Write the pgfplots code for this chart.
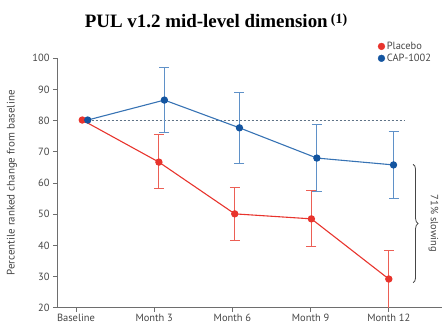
\documentclass[border=0pt]{standalone}
\usepackage{pgfplots}
\pgfplotsset{compat=1.18}
\usepackage{fontspec}
\setmainfont{PT Sans}
\newfontfamily\titlefont{Liberation Serif}
\usetikzlibrary{decorations.pathreplacing}
\definecolor{pred}{RGB}{232,52,45}
\definecolor{predlight}{RGB}{236,95,85}
\definecolor{pblue}{RGB}{20,85,160}
\definecolor{pbline}{RGB}{55,115,180}
\definecolor{pblight}{RGB}{95,145,200}
\definecolor{axgray}{RGB}{110,110,110}
\definecolor{txtgray}{RGB}{70,70,70}
\definecolor{dotgray}{RGB}{95,115,135}
\begin{document}
\begin{tikzpicture}
\path[use as bounding box] (-57bp,-18.3bp) rectangle (385bp,307.7bp);
\begin{axis}[
  scale only axis,
  width=385bp, height=249.4bp,
  xmin=-0.243, xmax=4.68,
  ymin=20, ymax=100,
  axis x line*=bottom, axis y line*=left,
  axis line style={axgray, line width=0.9pt},
  tick align=outside,
  major tick length=4bp,
  tick style={axgray, line width=0.9pt},
  xtick={0,1,2,3,4},
  xticklabels={Baseline,Month 3,Month 6,Month 9,Month 12},
  ytick={20,30,...,100},
  /pgf/number format/assume math mode=true,
  ticklabel style={font=\fontsize{10.5}{12}\selectfont, text=txtgray},
  xticklabel style={yshift=1bp},
  ylabel={Percentile ranked change from baseline},
  ylabel style={font=\fontsize{11}{12}\selectfont, text=txtgray, at={(axis description cs:-0.117,0.5)}, anchor=center},
  clip mode=individual,
  legend style={draw=none, fill=none, at={(axis cs:3.86,101.9)}, anchor=west, font=\fontsize{10.5}{12}\selectfont, text=txtgray, row sep=-1bp, inner sep=0pt},
  legend cell align=left,
]
% reference line at 80
\addplot[forget plot, dash pattern=on 2.2bp off 1.8bp, color=dotgray, line width=1pt] coordinates {(0.15,80.2) (4.2,80.2)};
% Placebo
\addplot[forget plot, pred, line width=1.1pt, mark=*, mark size=3.1bp, mark options={solid, fill=pred, draw=pred},
  error bars/.cd, y dir=both, y explicit,
  error bar style={predlight, line width=1pt},
  error mark options={rotate=90, mark size=5bp, predlight, line width=1pt}]
  coordinates {
  (0.08,80.2)
  (1.06,66.7) += (0,8.7) -= (0,8.6)
  (2.03,50.1) += (0,8.3) -= (0,8.4)
  (3.01,48.5) += (0,9.0) -= (0,9.0)
  (4.0,29.2) += (0,9.3) -= (0,11)
  };
% CAP-1002
\addplot[forget plot, pbline, line width=1.1pt, mark=*, mark size=3.1bp, mark options={solid, fill=pblue, draw=pblue},
  error bars/.cd, y dir=both, y explicit,
  error bar style={pblight, line width=1pt},
  error mark options={rotate=90, mark size=5bp, pblight, line width=1pt}]
  coordinates {
  (0.15,80.2)
  (1.13,86.6) += (0,10.6) -= (0,10.5)
  (2.09,77.7) += (0,11.2) -= (0,11.3)
  (3.08,68.0) += (0,10.9) -= (0,10.6)
  (4.06,65.8) += (0,10.6) -= (0,10.9)
  };
\addlegendimage{only marks, mark=*, mark size=3.4bp, pred}
\addlegendentry{Placebo}
\addlegendimage{only marks, mark=*, mark size=3.4bp, pblue}
\addlegendentry{CAP-1002}
\draw[decorate, decoration={brace, amplitude=5bp}, txtgray, line width=0.8pt] (axis cs:4.31,66) -- (axis cs:4.31,28);
\node[rotate=-90, font=\fontsize{10.5}{12}\selectfont, text=txtgray] at (axis cs:4.57,47) {71\% slowing};
\end{axis}
\node[font=\titlefont\bfseries\fontsize{19}{21}\selectfont, anchor=base] at (159bp,280.2bp) {PUL v1.2 mid-level dimension\,\raisebox{0.5ex}{\fontsize{14}{16}\selectfont(1)}};
\end{tikzpicture}
\end{document}
